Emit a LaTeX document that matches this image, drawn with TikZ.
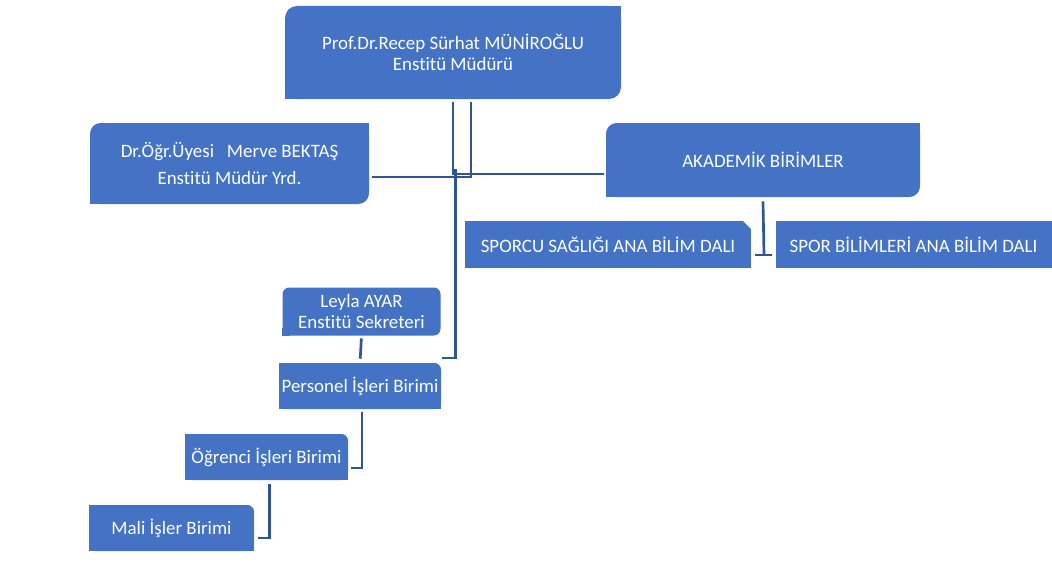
\documentclass[tikz,border=0pt]{standalone}
\usepackage{fontspec}
\setmainfont{Carlito}[Ligatures={NoCommon,NoRequired}]
\definecolor{boxblue}{HTML}{4472C4}
\definecolor{lineblue}{HTML}{2F5597}
\begin{document}
\begin{tikzpicture}[x=0.75pt,y=-0.75pt,
  box/.style={fill=boxblue,text=white,inner sep=0pt,align=center,
    font=\fontsize{14.2}{15.8}\selectfont},
  conn/.style={draw=lineblue,line width=2pt}]
\useasboundingbox (0,0) rectangle (1052,585);
% boxes
\node[box,rounded corners=9pt,minimum width=252pt,minimum height=69.75pt] (top) at (453,52.5)
  {Prof.Dr.Recep Sürhat MÜNİROĞLU\\Enstitü Müdürü};
\fill[boxblue] (top.north east) rectangle ++(-14,14);
\fill[boxblue] (top.south west) rectangle ++(14,-14);
\node[box,rounded corners=8pt,minimum width=209.25pt,minimum height=60.75pt] (merve) at (229.5,163.5)
  {Dr.Öğr.Üyesi\ \ \ Merve BEKTAŞ\\[4pt]Enstitü Müdür Yrd.};
\fill[boxblue] (merve.north east) rectangle ++(-12,12);
\fill[boxblue] (merve.south west) rectangle ++(12,-12);
\node[box,rounded corners=8pt,minimum width=235.5pt,minimum height=55.5pt] (akad) at (763,160)
  {AKADEMİK BİRİMLER};
\fill[boxblue] (akad.north east) rectangle ++(-12,12);
\fill[boxblue] (akad.south west) rectangle ++(12,-12);
\node[box,minimum width=214.5pt,minimum height=35.25pt] (sporcu) at (608,244.5)
  {SPORCU SAĞLIĞI ANA BİLİM DALI};
\fill[white] (sporcu.north east) -- ++(-9,-0.5) -- ++(9.5,9.5) -- cycle;
\node[box,minimum width=207pt,minimum height=35.25pt] (sporbil) at (913.5,244.5)
  {SPOR BİLİMLERİ ANA BİLİM DALI};
\node[box,rounded corners=5pt,minimum width=118.5pt,minimum height=36pt] (leyla) at (361.5,311.5)
  {Leyla AYAR\\Enstitü Sekreteri};
\fill[boxblue] (leyla.south west) rectangle ++(8,-8);
\node[box,rounded corners=5pt,minimum width=121.5pt,minimum height=34.5pt] (personel) at (360,386)
  {Personel İşleri Birimi};
\fill[boxblue] (personel.north west) rectangle ++(8,8);
\fill[boxblue] (personel.south west) rectangle ++(8,-8);
\fill[boxblue] (personel.south east) rectangle ++(-8,-8);
\node[box,rounded corners=5pt,minimum width=122.25pt,minimum height=34.5pt] (ogrenci) at (266.5,457)
  {Öğrenci İşleri Birimi};
\fill[boxblue] (ogrenci.north west) rectangle ++(8,8);
\fill[boxblue] (ogrenci.south west) rectangle ++(8,-8);
\fill[boxblue] (ogrenci.south east) rectangle ++(-8,-8);
\node[box,rounded corners=5pt,minimum width=123.75pt,minimum height=34.5pt] (mali) at (171.5,528)
  {Mali İşler Birimi};
\fill[boxblue] (mali.north west) rectangle ++(8,8);
\fill[boxblue] (mali.south west) rectangle ++(8,-8);
\fill[boxblue] (mali.south east) rectangle ++(-8,-8);
% connectors
\coordinate (pend) at (442,358);
\coordinate (tbar) at (764,255);
\draw[conn] ([xshift=13.5pt,yshift=-2pt]top.south) |- ([xshift=2pt,yshift=-10.1pt]merve.east);
\draw[conn] ([yshift=-2pt]top.south) |- ([xshift=-1.5pt,yshift=-10.5pt]akad.west);
\draw[conn] ([xshift=2pt,yshift=-52pt]top.south) |- (pend);
\draw[conn,shorten <=2pt,shorten >=3pt] (leyla.south) -- (personel.north);
\draw[conn] ([xshift=1.5pt,yshift=-2pt]personel.south) |- ([xshift=2pt,yshift=-8.25pt]ogrenci.east);
\draw[conn] ([xshift=2pt,yshift=-3pt]ogrenci.south) |- ([xshift=3pt,yshift=-7.5pt]mali.east);
\draw[conn] ([yshift=-3pt]akad.south) -- (tbar);
\draw[conn] ([xshift=-6.75pt]tbar) -- ([xshift=6pt]tbar);
\end{tikzpicture}
\end{document}
